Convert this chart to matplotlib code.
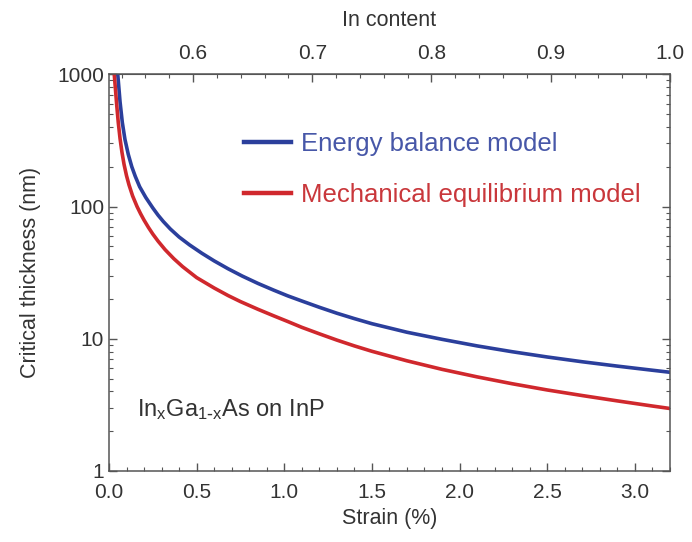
import numpy as np
import matplotlib.pyplot as plt

plt.rcParams['font.family'] = ['Liberation Sans', 'DejaVu Sans']
plt.rcParams['mathtext.default'] = 'regular'

# critical thickness (nm) vs strain (%) for InGaAs on InP
strain_eb = [0.05, 0.063, 0.076, 0.091, 0.11, 0.13, 0.15, 0.175, 0.21, 0.25, 0.28,
             0.31, 0.35, 0.4, 0.46, 0.53, 0.6, 0.68, 0.76, 0.85, 0.94, 1.02, 1.1,
             1.2, 1.3, 1.4, 1.5, 1.7, 1.9, 2.1, 2.3, 2.5, 2.7, 2.9, 3.1, 3.2]
h_eb = [1000, 620, 432, 322, 248, 200, 169, 141, 117, 97.5, 86,
        77, 67.6, 58.8, 51.2, 44.3, 38.8, 33.8, 29.8, 26.2, 23.3, 21.1, 19.3,
        17.3, 15.6, 14.2, 13.0, 11.2, 9.9, 8.83, 7.98, 7.28, 6.70, 6.21, 5.78, 5.58]

strain_me = [0.03, 0.044, 0.053, 0.063, 0.074, 0.086, 0.1, 0.114, 0.135, 0.16, 0.18,
             0.2, 0.225, 0.25, 0.28, 0.32, 0.37, 0.42, 0.5, 0.6, 0.68, 0.75, 0.85,
             0.94, 1.02, 1.1, 1.2, 1.3, 1.4, 1.5, 1.7, 1.9, 2.1, 2.3, 2.5, 2.7,
             2.9, 3.1, 3.2]
h_me = [1000, 587, 431, 327, 257, 208, 171, 146, 120, 100, 88.3,
        78.9, 69.5, 61.9, 54.7, 47.2, 40.3, 35.1, 29.0, 24.2, 21.2, 19.1, 16.7,
        14.9, 13.5, 12.2, 10.9, 9.77, 8.83, 8.04, 6.81, 5.87, 5.15, 4.57, 4.10, 3.72,
        3.39, 3.10, 2.97]

labels = ['Energy balance model', 'Mechanical equilibrium model']
colors = ['#2b3f9c', '#d0282d']
text_colors = ['#4757a8', '#c9373b']

# strain (%) grows linearly with In fraction above the lattice-matched point
slope = 6.8
in_lattice = 1.0 - 3.2 / slope

def strain_to_in(s):
    return in_lattice + np.asarray(s) / slope

def in_to_strain(x):
    return (np.asarray(x) - in_lattice) * slope

fig = plt.figure(figsize=(6.92, 5.42), dpi=100)
ax = fig.add_axes([0.1575, 0.131, 0.8105, 0.732])

ax.plot(strain_eb, h_eb, color=colors[0], lw=2.6, label=labels[0],
        solid_joinstyle='round')
ax.plot(strain_me, h_me, color=colors[1], lw=2.6, label=labels[1],
        solid_joinstyle='round')

ax.set_yscale('log')
ax.set_xlim(0, 3.2)
ax.set_ylim(1, 1000)
ax.set_xticks([0, 0.5, 1.0, 1.5, 2.0, 2.5, 3.0])
ax.set_xticks(np.arange(0, 3.21, 0.1), minor=True)
ax.set_yticks([1, 10, 100, 1000])
ax.set_yticklabels(['1', '10', '100', '1000'])
ax.set_xticklabels(['0.0', '0.5', '1.0', '1.5', '2.0', '2.5', '3.0'])

ax.tick_params(which='both', direction='in', right=True, top=False,
               color='#555555', labelsize=15, labelcolor='#333333')
ax.tick_params(which='major', length=6, width=1)
ax.tick_params(which='minor', length=3, width=0.8)
ax.tick_params(axis='x', which='major', pad=9)
for sp in ax.spines.values():
    sp.set_color('#555555')
    sp.set_linewidth(1.1)

ax.set_xlabel('Strain (%)', fontsize=15.5, color='#333333', labelpad=4)
ax.set_ylabel('Critical thickness (nm)', fontsize=15.5, color='#333333', labelpad=12)

top = ax.secondary_xaxis('top', functions=(strain_to_in, in_to_strain))
top.set_xticks([0.6, 0.7, 0.8, 0.9, 1.0])
top.set_xticklabels(['0.6', '0.7', '0.8', '0.9', '1.0'])
top.set_xticks(np.arange(0.54, 1.001, 0.02), minor=True)
top.tick_params(which='both', direction='in', color='#555555',
                labelsize=15, labelcolor='#333333')
top.tick_params(which='major', length=6, width=1, pad=8)
top.tick_params(which='minor', length=3, width=0.8)
top.spines['top'].set_color('#555555')
top.set_xlabel('In content', fontsize=15.5, color='#333333', labelpad=13)

leg = ax.legend(loc='upper left', bbox_to_anchor=(0.2, 0.913), frameon=False,
                fontsize=18.5, handlelength=1.8, handletextpad=0.4,
                labelspacing=1.05)
for t, c in zip(leg.get_texts(), text_colors):
    t.set_color(c)
for ln in leg.get_lines():
    ln.set_linewidth(3.2)

ax.text(0.05, 0.155, r'In$_x$Ga$_{1\text{-}x}$As on InP', transform=ax.transAxes,
        fontsize=17, color='#333333', va='center', ha='left')

fig.savefig('out.png', dpi=100)
